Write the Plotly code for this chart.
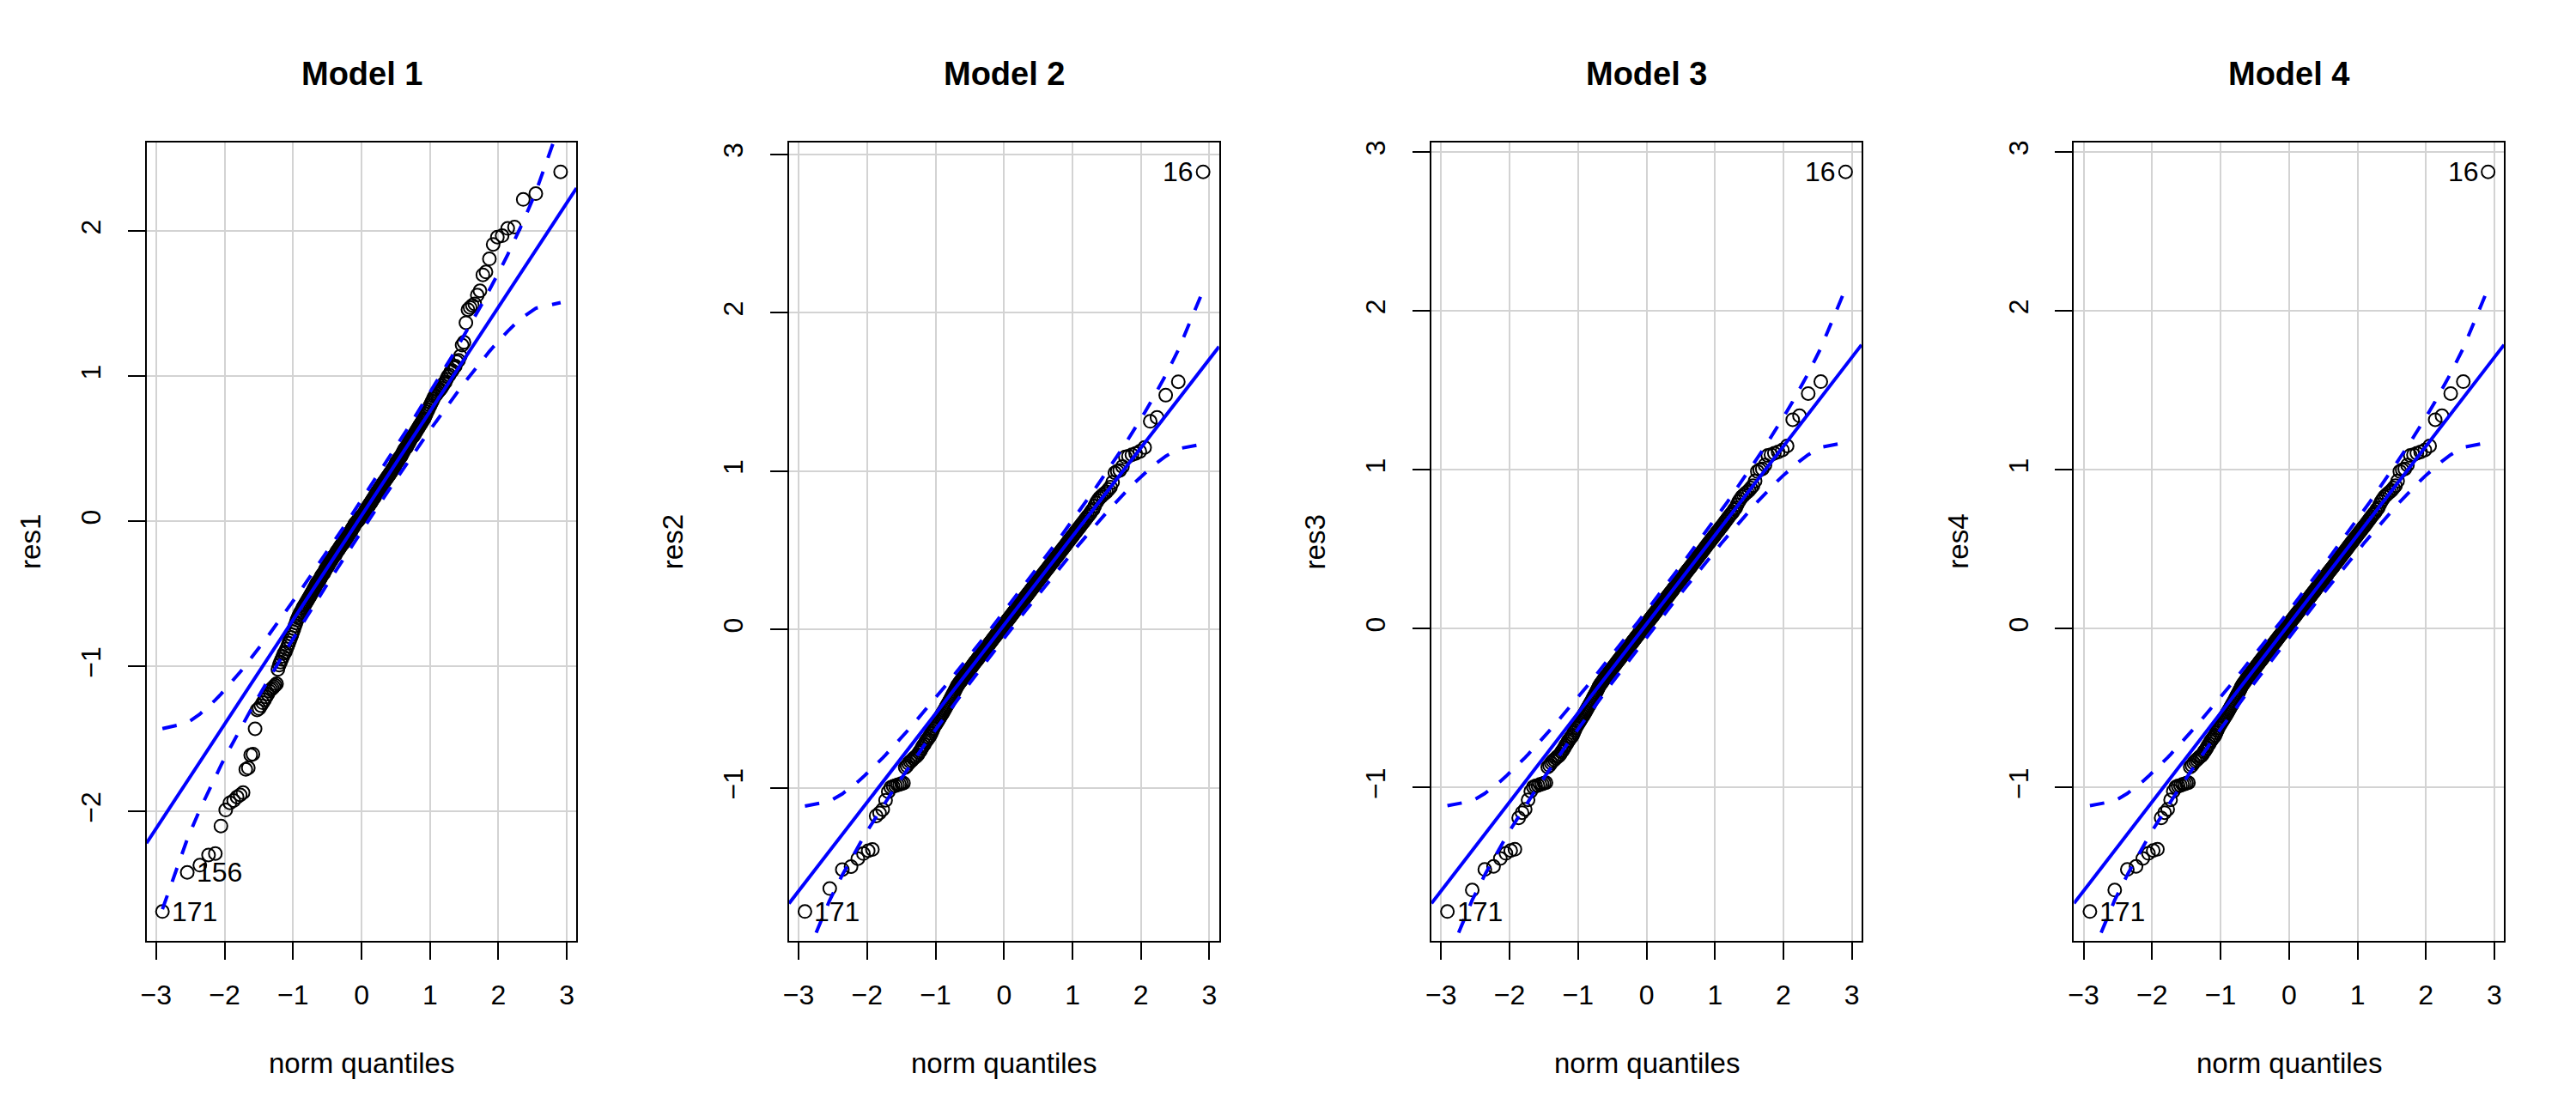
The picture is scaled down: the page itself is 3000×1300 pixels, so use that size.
import math
from statistics import NormalDist
import plotly.graph_objects as go

# ---- data: residuals (one value per point) ----
RES1 = [
    -2.69, -2.42, -2.37, -2.30, -2.29, -2.10, -1.99, -1.94, -1.925, -1.90,
    -1.886, -1.87, -1.71, -1.70, -1.61, -1.605, -1.43, -1.30, -1.29, -1.27,
    -1.25, -1.23, -1.21, -1.19, -1.17, -1.16, -1.15, -1.14, -1.13, -1.12,
    -1.02, -0.99, -0.97, -0.95, -0.93, -0.91, -0.90, -0.88, -0.86, -0.84,
    -0.82, -0.80, -0.78, -0.76, -0.74, -0.72, -0.70, -0.68, -0.665, -0.65,
    -0.635, -0.625, -0.615, -0.60, -0.59, -0.58, -0.57, -0.56, -0.55, -0.54,
    -0.53, -0.52, -0.51, -0.50, -0.49, -0.48, -0.47, -0.46, -0.45, -0.44,
    -0.43, -0.42, -0.415, -0.41, -0.40, -0.39, -0.38, -0.37, -0.365, -0.36,
    -0.35, -0.34, -0.33, -0.32, -0.315, -0.31, -0.30, -0.29, -0.28, -0.275,
    -0.27, -0.26, -0.25, -0.245, -0.24, -0.235, -0.23, -0.22, -0.21, -0.205,
    -0.20, -0.19, -0.185, -0.18, -0.17, -0.165, -0.16, -0.155, -0.15, -0.14,
    -0.135, -0.13, -0.12, -0.115, -0.11, -0.10, -0.09, -0.085, -0.08, -0.075,
    -0.07, -0.06, -0.05, -0.045, -0.04, -0.03, -0.02, -0.015, -0.01, -0.005,
    0.0, 0.005, 0.01, 0.015, 0.02, 0.025, 0.03, 0.035,
    0.04, 0.045, 0.05, 0.055, 0.06, 0.07, 0.08, 0.085, 0.09, 0.10,
    0.105, 0.11, 0.12, 0.125, 0.13, 0.14, 0.145, 0.15, 0.16, 0.165,
    0.17, 0.18, 0.19, 0.195, 0.20, 0.21, 0.215, 0.22, 0.23, 0.235,
    0.24, 0.25, 0.255, 0.26, 0.27, 0.275, 0.28, 0.29, 0.295, 0.30,
    0.31, 0.315, 0.32, 0.33, 0.335, 0.34, 0.35, 0.36, 0.365, 0.37,
    0.38, 0.39, 0.40, 0.41, 0.415, 0.42, 0.43, 0.44, 0.445, 0.45,
    0.46, 0.47, 0.48, 0.49, 0.50, 0.505, 0.51, 0.52, 0.53, 0.54,
    0.55, 0.56, 0.57, 0.58, 0.585, 0.59, 0.60, 0.61, 0.62, 0.63,
    0.64, 0.65, 0.66, 0.67, 0.68, 0.69, 0.70, 0.71, 0.725, 0.74,
    0.755, 0.77, 0.785, 0.80, 0.815, 0.83, 0.845, 0.86, 0.87, 0.88,
    0.89, 0.90, 0.91, 0.92, 0.935, 0.95, 0.96, 0.98, 1.00, 1.01,
    1.03, 1.04, 1.06, 1.07, 1.10, 1.11, 1.14, 1.215, 1.235, 1.37,
    1.46, 1.475, 1.49, 1.50, 1.56, 1.59, 1.70, 1.72, 1.81, 1.91,
    1.96, 1.97, 2.02, 2.03, 2.22, 2.26, 2.41,
]

RES2 = [
    -1.78, -1.635, -1.515, -1.496, -1.446, -1.414, -1.396, -1.388, -1.176, -1.158,
    -1.136, -1.077, -1.023, -0.996, -0.99, -0.986, -0.98, -0.977, -0.972, -0.969,
    -0.87, -0.86, -0.845, -0.833, -0.825, -0.815, -0.806, -0.80, -0.79, -0.775,
    -0.765, -0.75, -0.735, -0.725, -0.71, -0.70, -0.69, -0.68, -0.67, -0.655,
    -0.64, -0.625, -0.61, -0.60, -0.59, -0.58, -0.57, -0.56, -0.55, -0.54,
    -0.53, -0.52, -0.51, -0.50, -0.49, -0.48, -0.47, -0.46, -0.45, -0.44,
    -0.43, -0.42, -0.41, -0.40, -0.39, -0.38, -0.37, -0.36, -0.352, -0.345,
    -0.338, -0.331, -0.325, -0.318, -0.312, -0.305, -0.30, -0.294, -0.288, -0.282,
    -0.276, -0.27, -0.264, -0.258, -0.252, -0.246, -0.24, -0.235, -0.229, -0.223,
    -0.217, -0.211, -0.205, -0.20, -0.195, -0.19, -0.184, -0.178, -0.172, -0.167,
    -0.162, -0.156, -0.151, -0.145, -0.14, -0.135, -0.13, -0.124, -0.119, -0.113,
    -0.108, -0.103, -0.098, -0.093, -0.088, -0.082, -0.077, -0.072, -0.067, -0.061,
    -0.056, -0.051, -0.046, -0.041, -0.036, -0.031, -0.026, -0.021, -0.016, -0.011,
    -0.006, -0.001, 0.004, 0.01, 0.015, 0.02, 0.025, 0.03,
    0.035, 0.04, 0.045, 0.05, 0.056, 0.061, 0.066, 0.071, 0.076, 0.081,
    0.086, 0.092, 0.097, 0.102, 0.107, 0.112, 0.117, 0.122, 0.128, 0.133,
    0.138, 0.143, 0.149, 0.154, 0.159, 0.164, 0.169, 0.174, 0.18, 0.185,
    0.191, 0.196, 0.201, 0.206, 0.212, 0.217, 0.223, 0.228, 0.233, 0.239,
    0.244, 0.25, 0.256, 0.261, 0.266, 0.272, 0.278, 0.283, 0.289, 0.295,
    0.30, 0.306, 0.312, 0.318, 0.323, 0.33, 0.336, 0.341, 0.348, 0.354,
    0.36, 0.366, 0.372, 0.378, 0.384, 0.39, 0.397, 0.403, 0.41, 0.416,
    0.423, 0.429, 0.435, 0.442, 0.449, 0.456, 0.462, 0.469, 0.476, 0.483,
    0.49, 0.498, 0.505, 0.512, 0.52, 0.527, 0.535, 0.543, 0.551, 0.559,
    0.566, 0.575, 0.583, 0.591, 0.60, 0.608, 0.617, 0.626, 0.635, 0.644,
    0.653, 0.663, 0.673, 0.683, 0.693, 0.704, 0.715, 0.725, 0.736, 0.75,
    0.76, 0.78, 0.80, 0.815, 0.83, 0.84, 0.85, 0.86, 0.87, 0.885,
    0.90, 0.93, 0.99, 1.0, 1.005, 1.03, 1.09, 1.095, 1.104, 1.112,
    1.125, 1.15, 1.315, 1.34, 1.48, 1.565, 2.89,
]

RES34 = [
    -1.78, -1.645, -1.515, -1.496, -1.446, -1.414, -1.396, -1.388, -1.19, -1.158,
    -1.136, -1.077, -1.023, -0.996, -0.99, -0.986, -0.98, -0.977, -0.972, -0.969,
    -0.87, -0.86, -0.845, -0.833, -0.825, -0.815, -0.806, -0.80, -0.79, -0.775,
    -0.765, -0.75, -0.735, -0.725, -0.71, -0.70, -0.69, -0.68, -0.67, -0.655,
    -0.64, -0.625, -0.61, -0.60, -0.59, -0.58, -0.57, -0.56, -0.55, -0.54,
    -0.53, -0.52, -0.51, -0.50, -0.49, -0.48, -0.47, -0.46, -0.45, -0.44,
    -0.43, -0.42, -0.41, -0.40, -0.39, -0.38, -0.37, -0.36, -0.352, -0.345,
    -0.338, -0.331, -0.325, -0.318, -0.312, -0.305, -0.30, -0.294, -0.288, -0.282,
    -0.276, -0.27, -0.264, -0.258, -0.252, -0.246, -0.24, -0.235, -0.229, -0.223,
    -0.217, -0.211, -0.205, -0.20, -0.195, -0.19, -0.184, -0.178, -0.172, -0.167,
    -0.162, -0.156, -0.151, -0.145, -0.14, -0.135, -0.13, -0.124, -0.119, -0.113,
    -0.108, -0.103, -0.098, -0.093, -0.088, -0.082, -0.077, -0.072, -0.067, -0.061,
    -0.056, -0.051, -0.046, -0.041, -0.036, -0.031, -0.026, -0.021, -0.016, -0.011,
    -0.006, -0.001, 0.004, 0.01, 0.015, 0.02, 0.025, 0.03,
    0.035, 0.04, 0.045, 0.05, 0.056, 0.061, 0.066, 0.071, 0.076, 0.081,
    0.086, 0.092, 0.097, 0.102, 0.107, 0.112, 0.117, 0.122, 0.128, 0.133,
    0.138, 0.143, 0.149, 0.154, 0.159, 0.164, 0.169, 0.174, 0.18, 0.185,
    0.191, 0.196, 0.201, 0.206, 0.212, 0.217, 0.223, 0.228, 0.233, 0.239,
    0.244, 0.25, 0.256, 0.261, 0.266, 0.272, 0.278, 0.283, 0.289, 0.295,
    0.30, 0.306, 0.312, 0.318, 0.323, 0.33, 0.336, 0.341, 0.348, 0.354,
    0.36, 0.366, 0.372, 0.378, 0.384, 0.39, 0.397, 0.403, 0.41, 0.416,
    0.423, 0.429, 0.435, 0.442, 0.449, 0.456, 0.462, 0.469, 0.476, 0.483,
    0.49, 0.498, 0.505, 0.512, 0.52, 0.527, 0.535, 0.543, 0.551, 0.559,
    0.566, 0.575, 0.583, 0.591, 0.60, 0.608, 0.617, 0.626, 0.635, 0.644,
    0.653, 0.663, 0.673, 0.683, 0.693, 0.704, 0.715, 0.725, 0.736, 0.75,
    0.76, 0.78, 0.80, 0.815, 0.83, 0.84, 0.85, 0.86, 0.87, 0.885,
    0.90, 0.93, 0.99, 1.0, 1.005, 1.03, 1.09, 1.095, 1.104, 1.112,
    1.125, 1.15, 1.315, 1.34, 1.48, 1.555, 2.875,
]

TITLES = ["Model 1", "Model 2", "Model 3", "Model 4"]
YLABELS = ["res1", "res2", "res3", "res4"]
XLABEL = "norm quantiles"
XTICKS = [-3, -2, -1, 0, 1, 2, 3]
YTICKS = [[-2, -1, 0, 1, 2], [-1, 0, 1, 2, 3], [-1, 0, 1, 2, 3], [-1, 0, 1, 2, 3]]
# labelled points: (rank in sorted order, observation id)
ID_LABELS = [
    [(0, "171"), (1, "156")],
    [(0, "171"), (-1, "16")],
    [(0, "171"), (-1, "16")],
    [(0, "171"), (-1, "16")],
]
SERIES = [RES1, RES2, RES34, RES34]

# ---- style ----
FONT = "Liberation Sans, Arial, Helvetica, sans-serif"
W, H = 3000, 1300
PANEL_W = 750
PL, PR, PT, PB = 164, 666, 164, 1096   # plot region in panel pixels
BLUE = "#0000FF"
GRID = "#D3D3D3"

nd = NormalDist()


def qq(values):
    y = sorted(values)
    n = len(y)
    P = [(i + 0.5) / n for i in range(n)]
    z = [nd.inv_cdf(p) for p in P]

    def quant(p):
        h = (n - 1) * p
        lo = int(math.floor(h))
        hi = min(lo + 1, n - 1)
        return y[lo] + (h - lo) * (y[hi] - y[lo])

    q1, q3 = quant(0.25), quant(0.75)
    zq1, zq3 = nd.inv_cdf(0.25), nd.inv_cdf(0.75)
    b = (q3 - q1) / (zq3 - zq1)
    a = q1 - b * zq1
    zz = nd.inv_cdf(0.975)
    se = [(b / nd.pdf(zi)) * math.sqrt(p * (1 - p) / n) for zi, p in zip(z, P)]
    fit = [a + b * zi for zi in z]
    upper = [f + zz * s for f, s in zip(fit, se)]
    lower = [f - zz * s for f, s in zip(fit, se)]
    return z, y, a, b, upper, lower


def ext(lo, hi):
    d = (hi - lo) * 0.04
    return [lo - d, hi + d]


fig = go.Figure()
layout = dict(
    width=W, height=H,
    margin=dict(l=0, r=0, t=0, b=0),
    paper_bgcolor="white", plot_bgcolor="white",
    showlegend=False,
    font=dict(family=FONT, color="black", size=32),
)
annotations = []

ydom = [1 - PB / H, 1 - PT / H]

for i, res in enumerate(SERIES):
    z, y, a, b, upper, lower = qq(res)
    xr = ext(min(z), max(z))
    yr = ext(min(y), max(y))
    xa = "x" if i == 0 else f"x{i+1}"
    ya = "y" if i == 0 else f"y{i+1}"
    x0 = (PANEL_W * i + PL) / W
    x1 = (PANEL_W * i + PR) / W

    fig.add_trace(go.Scatter(
        x=z, y=y, mode="markers", xaxis=xa, yaxis=ya,
        marker=dict(symbol="circle-open", size=15, color="black",
                    line=dict(width=2, color="black")),
        hoverinfo="skip"))
    fig.add_trace(go.Scatter(
        x=xr, y=[a + b * xr[0], a + b * xr[1]], mode="lines", xaxis=xa, yaxis=ya,
        line=dict(color=BLUE, width=4), hoverinfo="skip"))
    for env in (upper, lower):
        fig.add_trace(go.Scatter(
            x=z, y=env, mode="lines", xaxis=xa, yaxis=ya,
            line=dict(color=BLUE, width=4, dash="17px,17px"), hoverinfo="skip"))

    axis_common = dict(
        showline=True, linecolor="black", linewidth=2, mirror=True,
        ticks="outside", ticklen=20, tickwidth=2, tickcolor="black",
        showgrid=True, gridcolor=GRID, gridwidth=2, zeroline=False,
        tickfont=dict(family=FONT, size=32, color="black"),
        fixedrange=True,
    )
    layout["xaxis" if i == 0 else f"xaxis{i+1}"] = dict(
        axis_common, domain=[x0, x1], range=xr, anchor=ya,
        tickvals=XTICKS, ticktext=[str(t).replace("-", "\u2212") for t in XTICKS],
        ticklabelstandoff=13,
    )
    layout["yaxis" if i == 0 else f"yaxis{i+1}"] = dict(
        axis_common, domain=ydom, range=yr, anchor=xa,
        tickvals=YTICKS[i], ticktext=[str(t).replace("-", "\u2212") for t in YTICKS[i]],
        tickangle=-90, ticklabelstandoff=19,
    )

    cx = (x0 + x1) / 2
    annotations.append(dict(
        text=f"<b>{TITLES[i]}</b>", x=cx, y=1 - 84 / H, xref="paper", yref="paper",
        xanchor="center", yanchor="middle", showarrow=False,
        font=dict(family=FONT, size=38, color="black")))
    annotations.append(dict(
        text=XLABEL, x=cx, y=1 - 1238 / H, xref="paper", yref="paper",
        xanchor="center", yanchor="middle", showarrow=False,
        font=dict(family=FONT, size=33, color="black")))
    annotations.append(dict(
        text=YLABELS[i], x=(PANEL_W * i + 28) / W, y=(ydom[0] + ydom[1]) / 2,
        xref="paper", yref="paper", xanchor="center", yanchor="middle",
        textangle=-90, showarrow=False,
        font=dict(family=FONT, size=33, color="black")))
    for rank, lab in ID_LABELS[i]:
        px, py = z[rank], y[rank]
        left_side = px < 0
        annotations.append(dict(
            text=lab, x=px, y=py, xref=xa, yref=ya,
            xanchor="left" if left_side else "right", yanchor="middle",
            xshift=9 if left_side else -9, showarrow=False,
            font=dict(family=FONT, size=32, color="black")))

layout["annotations"] = annotations
fig.update_layout(**layout)
fig.write_html(
    "out.html",
    config={"displayModeBar": False, "staticPlot": True},
    post_script="document.body.style.margin='0px';",
)
